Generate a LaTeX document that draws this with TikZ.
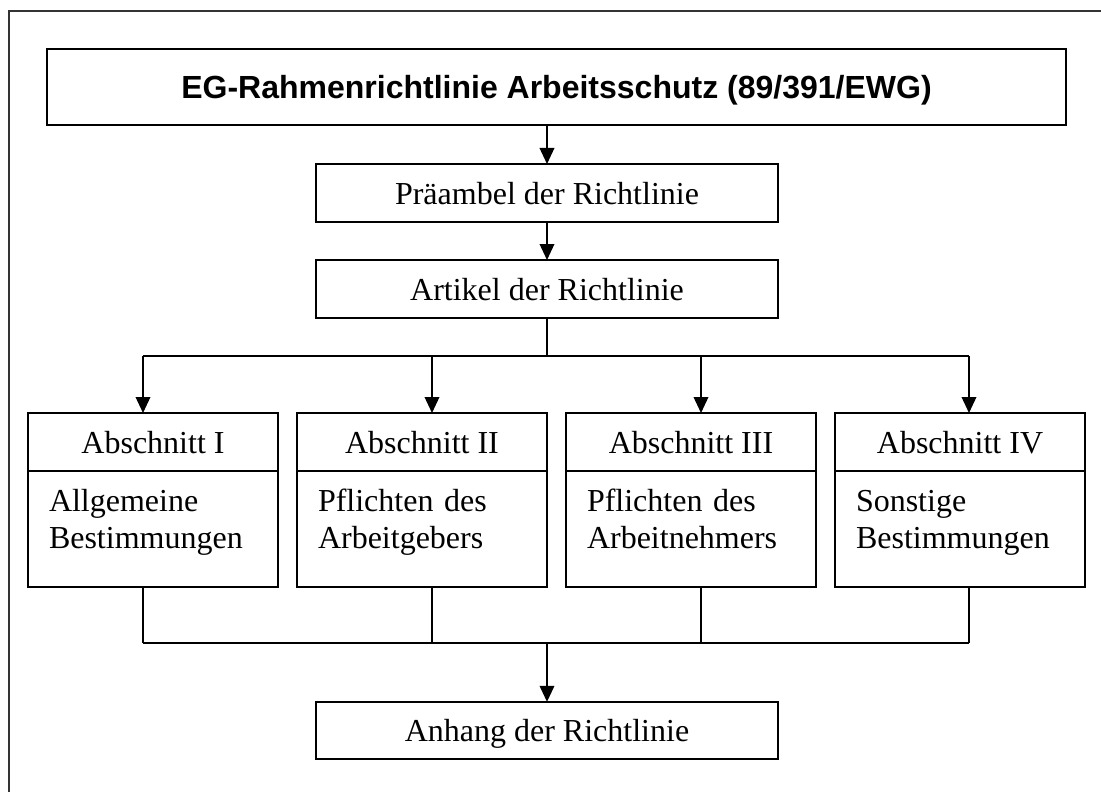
\documentclass[tikz,border=0pt]{standalone}
\usepackage{fontspec}
\setmainfont{Liberation Serif}
\newfontfamily\headfont{Liberation Sans}
\usetikzlibrary{positioning, arrows.meta}

\tikzset{
  box/.style={draw, line width=1.1pt, inner sep=0pt, outer sep=0pt, text depth=0pt, minimum height=43.5pt},
  secbody/.style={draw, line width=1.1pt, outer sep=0pt, inner xsep=15.75pt, inner ysep=0pt,
    minimum width=187.5pt, minimum height=87pt, text width=156pt, align=left,
    text height=16.4pt, text depth=42.2pt},
  arr/.style={line width=1.1pt, -{Triangle[length=12pt, width=11pt]}},
  link/.style={line width=1.1pt},
}

\begin{document}
\begin{tikzpicture}[x=0.75pt, y=-0.75pt, every node/.style={font=\fontsize{24}{27.6}\selectfont}]
  \useasboundingbox (0,0) rectangle (1101,792);
  % Outer frame, cut off at the right and at the bottom
  \draw[line width=1pt, black!80] (9,800) -- (9,11) -- (1110,11);

  % Title
  \node[box, minimum width=764.25pt, minimum height=57pt, font=\headfont\bfseries\fontsize{24}{27.6}\selectfont] (title) at (556.5,87) {EG-Rahmenrichtlinie Arbeitsschutz (89/391/EWG)};

  % Preamble and articles
  \node[box, minimum width=346.5pt] (pre) at (547,193) {Präambel der Richtlinie};
  \node[box, minimum width=346.5pt] (art) at (547,289) {Artikel der Richtlinie};
  \draw[arr] (title.south -| pre.north) -- (pre.north);
  \draw[arr] (pre.south) -- (art.north);

  % Sections
  \foreach \n/\x/\t/\a/\b in {1/153/I/Allgemeine/Bestimmungen, 2/422/II/Pflichten des/Arbeitgebers,
      3/691/III/Pflichten des/Arbeitnehmers, 4/960/IV/Sonstige/Bestimmungen} {
    \node[box, minimum width=187.5pt] (head\n) at (\x,442) {Abschnitt \t};
    \node[secbody, below=0pt of head\n] (body\n) {\a\\\b};
  }

  % Fork to the sections and back together
  \draw[link] (art.south) -- (art.south |- 0,356) coordinate (split);
  \foreach \n/\x in {1/143, 2/432, 3/701, 4/969} {
    \coordinate (tap\n) at (\x,356);
    \coordinate (out\n) at (\x,643);
    \draw[arr] (tap\n) -- (tap\n |- head\n.north);
    \draw[link] (tap\n |- body\n.south) -- (out\n);
  }
  \draw[link] (tap1) -- (tap4);
  \draw[link] (out1) -- (out4);

  % Annex
  \node[box, minimum width=346.5pt, minimum height=43pt] (anh) at (547,730.5) {Anhang der Richtlinie};
  \draw[arr] (out1 -| anh.north) -- (anh.north);
\end{tikzpicture}
\end{document}
